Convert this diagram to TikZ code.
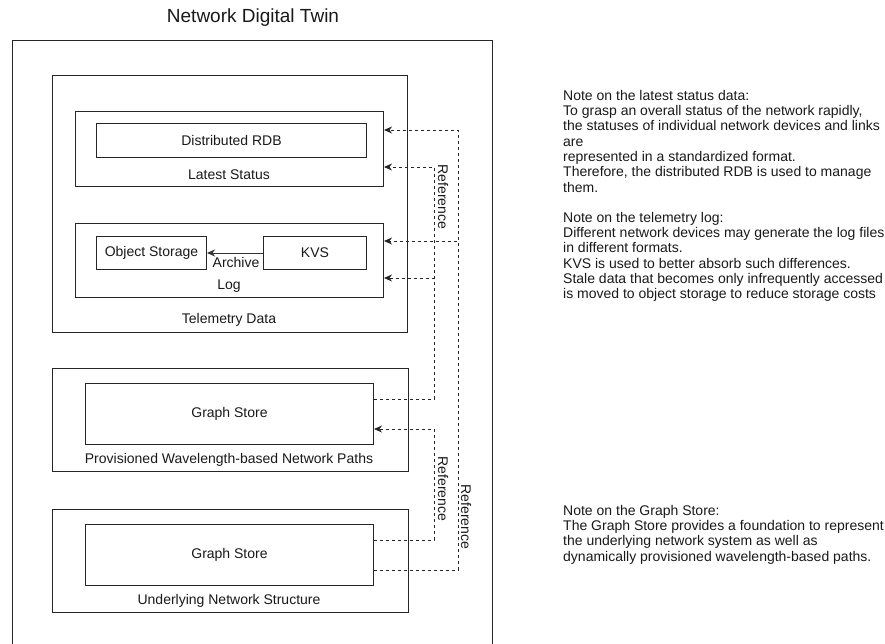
\documentclass[tikz,border=0pt]{standalone}
\usepackage{fontspec}
\setmainfont{Liberation Sans}
\usetikzlibrary{arrows.meta,calc}
\begin{document}
\begin{tikzpicture}[x=1pt,y=-1pt,
  box/.style={draw=black!85, line width=1pt, inner sep=0pt, anchor=north west,
    font=\fontsize{14}{16}\selectfont, text=black!90},
  lbl/.style={font=\fontsize{14}{16}\selectfont, inner sep=0pt, text=black!90},
  ref/.style={draw=black!85, line width=1pt, dash pattern=on 3pt off 3pt},
  tip/.style={-{Stealth[length=8pt,width=7pt,inset=2.5pt]}},
  arch/.style={draw=black!80, line width=1pt},
  note/.style={font=\fontsize{14}{15.3}\selectfont, align=left, anchor=north west,
    inner sep=0pt, text=black!90},
]
\useasboundingbox (0,0) rectangle (885,643);
\clip (0,0) rectangle (885,643);

% title and outer container
\node[lbl, font=\fontsize{19}{22}\selectfont] (title) at (253,18) {Network Digital Twin};
\node[box, minimum width=480pt, minimum height=640pt] (twin) at (12,40) {};

% telemetry data
\node[box, minimum width=355pt, minimum height=257pt] (td) at (52,75) {};
\node[lbl] (tdl) at (229,320) {Telemetry Data};

\node[box, minimum width=308pt, minimum height=75pt] (ls) at (75,111) {};
\node[box, minimum width=270pt, minimum height=34pt] (rdb) at (96,123) {Distributed RDB};
\node[lbl] (lsl) at (229,175) {Latest Status};

\node[box, minimum width=308pt, minimum height=74pt] (log) at (75,223) {};
\node[box, minimum width=110pt, minimum height=33pt] (os) at (96,236) {Object Storage};
\node[box, minimum width=103pt, minimum height=33pt] (kvs) at (263,236) {KVS};
\node[lbl] (logl) at (229,286) {Log};
\draw[arch,tip] (kvs.west) -- (os.east);
\node[lbl] (archive) at (236,262) {Archive};

% provisioned paths
\node[box, minimum width=356pt, minimum height=103pt] (prov) at (52,368) {};
\node[box, minimum width=288pt, minimum height=61pt] (pg) at (85,383) {Graph Store};
\node[lbl] (provl) at (229,460) {Provisioned Wavelength-based Network Paths};

% underlying structure
\node[box, minimum width=356pt, minimum height=103pt] (und) at (52,509) {};
\node[box, minimum width=288pt, minimum height=61pt] (ug) at (85,524) {Graph Store};
\node[lbl] (undl) at (229,601) {Underlying Network Structure};

% connector points
\coordinate (xa) at (434,0);
\coordinate (xb) at (458,0);
\coordinate (pgout) at ($(pg.north east)+(0,16)$);
\coordinate (pgin) at ($(pg.north east)+(0,46)$);
\coordinate (ugout1) at ($(ug.north east)+(0,16)$);
\coordinate (ugout2) at ($(ug.north east)+(0,46)$);
\coordinate (lsin1) at ($(ls.north east)+(0,19)$);
\coordinate (lsin2) at ($(ls.north east)+(0,56)$);
\coordinate (login1) at ($(log.north east)+(0,18)$);
\coordinate (login2) at ($(log.north east)+(0,55)$);

\draw[ref,tip] (pgout) -| (xa |- lsin2) -- (lsin2);
\draw[ref,tip] (pgout) -| (xa |- login2) -- (login2);
\draw[ref,tip] (ugout2) -| (xb |- lsin1) -- (lsin1);
\draw[ref,tip] (ugout2) -| (xb |- login1) -- (login1);
\draw[ref,tip] (ugout1) -| (xa |- pgin) -- (pgin);

\node[lbl, rotate=-90] (r1) at (443,197) {Reference};
\node[lbl, rotate=-90] (r2) at (443,489) {Reference};
\node[lbl, rotate=-90] (r3) at (466,517) {Reference};

% notes
\node[note] (n1) at (563,90) {Note on the latest status data:\\
To grasp an overall status of the network rapidly,\\
the statuses of individual network devices and links\\
are\\
represented in a standardized format.\\
Therefore, the distributed RDB is used to manage\\
them.};
\node[note] (n2) at (563,212) {Note on the telemetry log:\\
Different network devices may generate the log files\\
in different formats.\\
KVS is used to better absorb such differences.\\
Stale data that becomes only infrequently accessed\\
is moved to object storage to reduce storage costs};
\node[note] (n3) at (563,505) {Note on the Graph Store:\\
The Graph Store provides a foundation to represent\\
the underlying network system as well as\\
dynamically provisioned wavelength-based paths.};
\end{tikzpicture}
\end{document}
